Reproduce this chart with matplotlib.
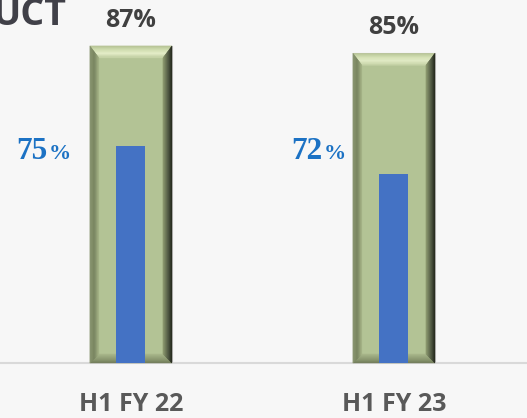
import numpy as np
import matplotlib.pyplot as plt
from matplotlib.patches import Polygon
from matplotlib.transforms import IdentityTransform, blended_transform_factory
from matplotlib.colors import to_rgb

# data
periods = ['H1 FY 22', 'H1 FY 23']
target = [87, 85]   # green bevelled bars (primary axis)
actual = [75, 72]   # blue inner bars (secondary axis)

plt.rcParams['font.family'] = ['Open Sans', 'DejaVu Sans']

fig = plt.figure(figsize=(5.27, 4.18), dpi=100)
fig.patch.set_facecolor('#f7f7f7')

# plot area: baseline 55px from the bottom, top at the figure edge
ax = fig.add_axes([1 / 527, 55 / 418, 526 / 527, 363 / 418])
ax.set_facecolor('#f7f7f7')
ax2 = ax.twinx()

x = np.arange(len(periods))
green_w = 0.312
blue_w = 0.11

ax.set_xlim(-0.494, 1.506)
ax.set_ylim(0, 99.6)
ax2.set_ylim(51.75, 90.65)

face = '#b3c395'
ax.bar(x, target, width=green_w, color=face, edgecolor='#c4c4c4', linewidth=0.8, zorder=2)


def ramp(stops, t):
    # piecewise linear colour ramp over evenly spaced stops
    stops = [np.array(to_rgb(c)) for c in stops]
    pos = t * (len(stops) - 1)
    i = min(int(pos), len(stops) - 2)
    f = pos - i
    return tuple(stops[i] + (stops[i + 1] - stops[i]) * f)


def bevel(ax, xc, h, w, n=10):
    # bevel frame on a bar, drawn in pixel units so the edge width stays fixed
    x0, y0 = ax.transData.transform((xc - w / 2, 0))
    x1, y1 = ax.transData.transform((xc + w / 2, h))
    sl, sr, st, sb = 9, 9, 12, 9
    sides = {
        'top': ['#b4c193', '#d3dfb3', '#e6efca', '#c2cfa2'],
        'bottom': ['#6e7956', '#a9b78b'],
        'left': ['#8a9670', '#74805c', '#a7b589'],
        'right': ['#1e2117', '#4d5540', '#8f9b70'],
    }

    def rect(t):
        return x0 + t * sl, y0 + t * sb, x1 - t * sr, y1 - t * st

    for side, stops in sides.items():
        for i in range(n):
            a0, b0, a1, b1 = rect(i / n)
            c0, d0, c1, d1 = rect((i + 1) / n)
            if side == 'top':
                pts = [(a0, b1), (a1, b1), (c1, d1), (c0, d1)]
            elif side == 'bottom':
                pts = [(a0, b0), (a1, b0), (c1, d0), (c0, d0)]
            elif side == 'left':
                pts = [(a0, b0), (a0, b1), (c0, d1), (c0, d0)]
            else:
                pts = [(a1, b0), (a1, b1), (c1, d1), (c1, d0)]
            col = ramp(stops, (i + 0.5) / n)
            ax.add_patch(Polygon(pts, closed=True, facecolor=col, edgecolor=col, linewidth=0.3,
                                 transform=IdentityTransform(), clip_on=False, zorder=3))


for xi, h in zip(x, target):
    bevel(ax, xi, h, green_w)

ax2.bar(x, actual, width=blue_w, color='#4472c4', zorder=4)

# value labels above the green bars
for xi, v in zip(x, target):
    ax.annotate(f'{v}%', (xi, v), xytext=(0, 13.7), textcoords='offset points',
                ha='center', va='baseline', fontsize=18, fontweight='bold', color='#404040')

# blue labels to the left of each bar
lbl_tr = blended_transform_factory(ax.transData, ax.transAxes)
label_dx = [-0.316, -0.27]
for xi, dx, v in zip(x, label_dx, actual):
    ax.text(xi + dx, 0.562, f'{v}', transform=lbl_tr, ha='right', va='baseline',
            fontsize=22.5, fontweight='bold', color='#1c72c4', family='Liberation Serif')
    ax.annotate('%', (xi + dx, 0.562), xycoords=lbl_tr, xytext=(0.5, 0), textcoords='offset points',
                ha='left', va='baseline', fontsize=16, fontweight='bold', color='#1c72c4',
                family='Liberation Serif')

# axes styling
for a in (ax, ax2):
    for s in ['top', 'left', 'right']:
        a.spines[s].set_visible(False)
    a.set_yticks([])
ax2.spines['bottom'].set_visible(False)
ax.spines['bottom'].set_color('#d9d9d9')
ax.spines['bottom'].set_linewidth(1.5)
ax.set_xticks(x, periods)
ax.tick_params(axis='x', length=0, pad=21, labelsize=18, labelcolor='#595959')
for t in ax.get_xticklabels():
    t.set_fontweight('bold')
ax2.tick_params(axis='x', length=0, labelbottom=False)

# cut-off chart title in the top-left corner
fig.text(67 / 527, 1 - 25 / 418, 'UCT', ha='right', va='baseline', fontsize=27,
         fontweight='bold', color='#404048')

fig.savefig('out.png', dpi=100, facecolor=fig.get_facecolor())
